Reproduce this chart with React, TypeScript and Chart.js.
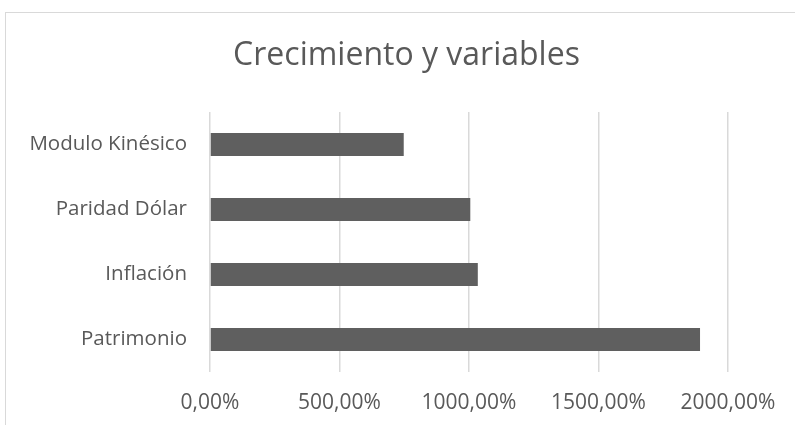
import React, { useEffect, useRef } from "react";
import { Chart, registerables } from "chart.js";

Chart.register(...registerables);

const categories = ["Modulo Kinésico", "Paridad Dólar", "Inflación", "Patrimonio"];
const growthValues = [748, 1005, 1034, 1892];
const xTicks = [0, 500, 1000, 1500, 2000];
const titleText = "Crecimiento y variables";

const textColor = "#595959";
const gridColor = "#d9d9d9";
const barColor = "#5f5f5f";

function fmt(v: number): string {
  return v.toFixed(2).replace(".", ",") + "%";
}

const shiftTitle = {
  id: "shiftTitle",
  afterLayout(chart: any) {
    if (chart.titleBlock) {
      chart.titleBlock.left = 85;
    }
  },
};

export default function App() {
  const ref = useRef<HTMLCanvasElement | null>(null);

  useEffect(() => {
    if (!ref.current) return;
    const chart = new Chart(ref.current, {
      type: "bar",
      data: {
        labels: categories,
        datasets: [
          {
            label: "Crecimiento",
            data: growthValues,
            backgroundColor: barColor,
            borderWidth: 0,
            categoryPercentage: 1,
            barPercentage: 0.354,
          },
        ],
      },
      plugins: [shiftTitle],
      options: {
        indexAxis: "y",
        responsive: false,
        animation: false,
        layout: { padding: { left: 0, right: 67, top: 0, bottom: 0 } },
        plugins: {
          legend: { display: false },
          tooltip: { enabled: false },
          title: {
            display: true,
            text: titleText,
            color: textColor,
            font: { family: "Open Sans", size: 32, weight: "normal", lineHeight: 1.2 },
            padding: { top: 36.7, bottom: 36.9 },
          },
        },
        scales: {
          x: {
            type: "linear",
            min: 0,
            max: 2000,
            afterBuildTicks: (scale: any) => {
              scale.ticks = xTicks.map((v) => ({ value: v }));
            },
            afterFit: (scale: any) => {
              scale.height = 53;
            },
            ticks: {
              color: textColor,
              font: { family: "Open Sans", size: 21 },
              padding: 18,
              maxRotation: 0,
              callback: (v: any) => fmt(Number(v)),
            },
            grid: { color: gridColor, lineWidth: 1.5, drawTicks: false },
            border: { display: false },
          },
          y: {
            type: "category",
            afterFit: (scale: any) => {
              scale.width = 210;
            },
            ticks: {
              color: textColor,
              font: { family: "Open Sans", size: 20.5 },
              padding: 23,
            },
            grid: { display: false, drawTicks: false },
            border: { display: false },
          },
        },
      },
    });
    return () => chart.destroy();
  }, []);

  return (
    <div
      style={{
        position: "fixed",
        left: 0,
        top: 0,
        width: 795,
        height: 425,
        overflow: "hidden",
        background: "#ffffff",
      }}
    >
      <div
        style={{
          position: "absolute",
          left: 5,
          top: 12,
          width: 820,
          height: 450,
          border: `1px solid ${gridColor}`,
          boxSizing: "border-box",
        }}
      />
      <canvas
        ref={ref}
        width={795}
        height={425}
        style={{ position: "absolute", left: 0, top: 0, width: 795, height: 425 }}
      />
    </div>
  );
}
